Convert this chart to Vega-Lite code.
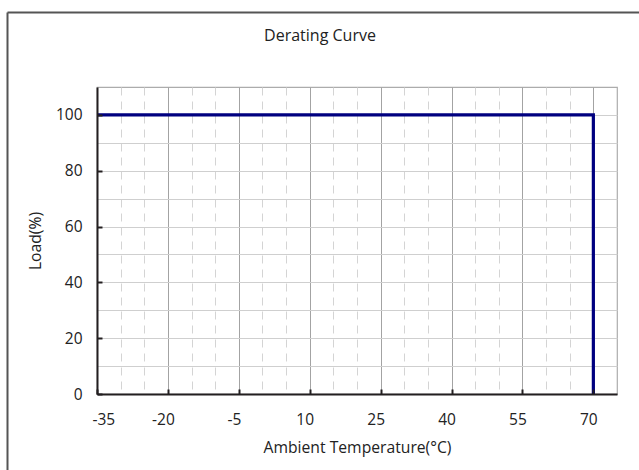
{
  "$schema": "https://vega.github.io/schema/vega-lite/v6.json",
  "width": 520,
  "height": 307,
  "autosize": {"type": "none"},
  "padding": {"left": 97, "top": 87, "right": 22, "bottom": 76},
  "background": "white",
  "config": {
    "view": {"stroke": "#acacac", "strokeWidth": 1.2},
    "font": "Open Sans"
  },
  "title": {
    "text": "Derating Curve",
    "fontSize": 16,
    "fontWeight": "normal",
    "font": "Open Sans",
    "color": "#222222",
    "offset": 0,
    "dy": 45,
    "dx": -37,
    "baseline": "alphabetic",
    "anchor": "middle",
    "frame": "group"
  },
  "data": {
    "values": [
      {"seq": 1, "temp": -35, "load": 100},
      {"seq": 2, "temp": 70, "load": 100},
      {"seq": 3, "temp": 70, "load": 0}
    ]
  },
  "resolve": {
    "scale": {"x": "independent", "y": "independent"},
    "axis": {"x": "independent", "y": "independent"}
  },
  "layer": [
    {
      "mark": {"type": "point", "opacity": 0},
      "encoding": {
        "x": {
          "field": "temp", "type": "quantitative",
          "scale": {"domain": [-35, 75], "nice": false, "zero": false},
          "axis": {
            "orient": "bottom",
            "values": [-30, -25, -15, -10, 0, 5, 15, 20, 30, 35, 45, 50, 60, 65],
            "grid": true, "gridColor": "#d4d4d4", "gridDash": [8, 6], "gridWidth": 1,
            "domain": false, "ticks": false, "labels": false, "title": null
          }
        },
        "y": {
          "field": "load", "type": "quantitative",
          "scale": {"domain": [0, 110], "nice": false, "zero": false},
          "axis": {
            "orient": "left",
            "values": [10, 20, 30, 40, 50, 60, 70, 80, 90, 100],
            "grid": true, "gridColor": "#cfcfcf", "gridWidth": 1,
            "domain": false, "ticks": false, "labels": false, "title": null
          }
        }
      }
    },
    {
      "mark": {"type": "point", "opacity": 0},
      "encoding": {
        "x": {
          "field": "temp", "type": "quantitative",
          "scale": {"domain": [-35, 75], "nice": false, "zero": false},
          "axis": {
            "orient": "bottom",
            "values": [-20, -5, 10, 25, 40, 55, 70],
            "grid": true, "gridColor": "#a3a3a3", "gridWidth": 1,
            "domain": false, "ticks": false, "labels": false, "title": null
          }
        },
        "y": {
          "field": "load", "type": "quantitative",
          "scale": {"domain": [0, 110], "nice": false, "zero": false},
          "axis": null
        }
      }
    },
    {
      "mark": {"type": "line", "color": "#000080", "strokeWidth": 3.2, "strokeJoin": "miter"},
      "encoding": {
        "order": {"field": "seq", "type": "quantitative"},
        "x": {
          "field": "temp", "type": "quantitative",
          "scale": {"domain": [-35, 75], "nice": false, "zero": false},
          "axis": {
            "orient": "bottom",
            "values": [-35, -20, -5, 10, 25, 40, 55, 70],
            "labelExpr": "'' + datum.value",
            "grid": false, "zindex": 1,
            "domain": true, "domainColor": "#231f20", "domainWidth": 2,
            "ticks": true, "tickColor": "#231f20", "tickWidth": 2, "tickSize": -5,
            "labelFont": "Open Sans", "labelFontSize": 15.5, "labelColor": "#222222",
            "labelPadding": 23, "labelOffset": -5,
            "title": "Ambient Temperature(°C)", "titleFont": "Open Sans", "titleFontSize": 15.7,
            "titleFontWeight": "normal", "titleColor": "#222222", "titlePadding": 13
          }
        },
        "y": {
          "field": "load", "type": "quantitative",
          "scale": {"domain": [0, 110], "nice": false, "zero": false},
          "axis": {
            "orient": "left",
            "values": [0, 20, 40, 60, 80, 100],
            "labelExpr": "'' + datum.value",
            "grid": false, "zindex": 1,
            "domain": true, "domainColor": "#231f20", "domainWidth": 2,
            "ticks": true, "tickColor": "#231f20", "tickWidth": 2, "tickSize": -5,
            "labelFont": "Open Sans", "labelFontSize": 15.5, "labelColor": "#222222",
            "labelPadding": 20,
            "title": "Load(%)", "titleFont": "Open Sans", "titleFontSize": 15.7,
            "titleFontWeight": "normal", "titleColor": "#222222", "titlePadding": 12
          }
        }
      }
    },
    {
      "mark": {"type": "point", "opacity": 0},
      "encoding": {
        "x": {
          "field": "temp", "type": "quantitative",
          "scale": {"domain": [-35, 75], "range": [-90, 560], "nice": false, "zero": false},
          "axis": {
            "orient": "top", "offset": 75,
            "domain": true, "domainColor": "#555555", "domainWidth": 2,
            "ticks": false, "labels": false, "grid": false, "title": null
          }
        },
        "y": {
          "field": "load", "type": "quantitative",
          "scale": {"domain": [0, 110], "range": [420, -75], "nice": false, "zero": false},
          "axis": {
            "orient": "left", "offset": 90,
            "domain": true, "domainColor": "#555555", "domainWidth": 2,
            "ticks": false, "labels": false, "grid": false, "title": null
          }
        }
      }
    }
  ]
}
